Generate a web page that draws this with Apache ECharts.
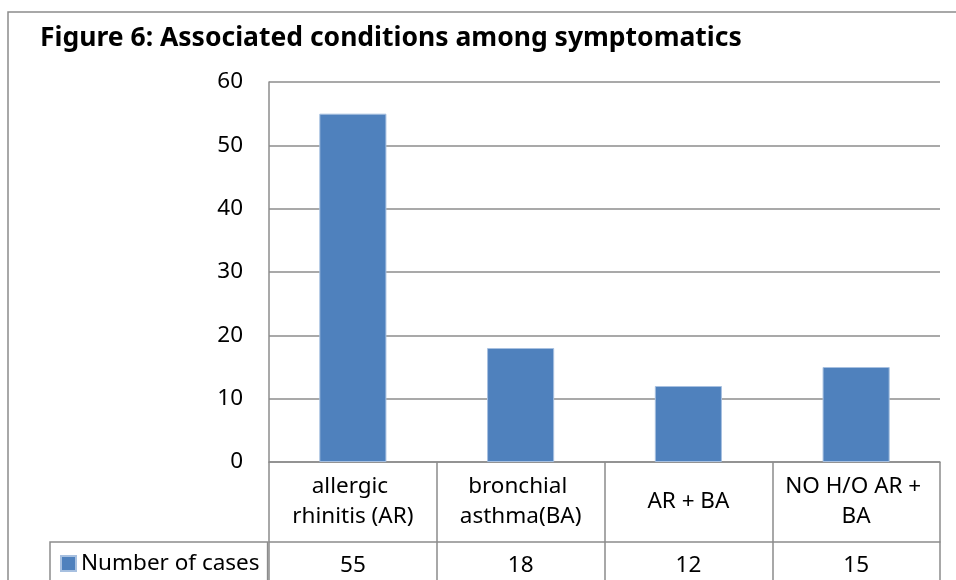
<!DOCTYPE html>
<html>
<head>
<meta charset="utf-8">
<script src="https://cdn.jsdelivr.net/npm/echarts@6/dist/echarts.min.js"></script>
<style>
    html, body { margin: 0; padding: 0; background: #fff; }
    #chart { width: 956px; height: 580px; }
</style>
</head>
<body>
<div id="chart"></div>
<script>
    var categories = ['allergic rhinitis (AR)', 'bronchial asthma(BA)', 'AR + BA', 'NO H/O AR + BA'];
    var cases = [55, 18, 12, 15];
    var yTicks = [0, 10, 20, 30, 40, 50, 60];

    var font = 'Noto Sans';
    var lineColor = '#8c8c8c';

    var myChart = echarts.init(document.getElementById('chart'));

    var option = {
        animation: false,
        textStyle: {fontFamily: font},
        title: {
            text: 'Figure 6: Associated conditions among symptomatics',
            left: 35,
            top: 20,
            textStyle: {fontSize: 26.5, fontWeight: 'bold', color: '#000', fontFamily: font},
        },
        legend: {
            data: ['Number of cases'],
            icon: 'rect',
            left: 50,
            top: 542,
            itemWidth: 15,
            itemHeight: 15,
            itemGap: 5,
            padding: [10, 8, 40, 10],
            borderColor: lineColor,
            borderWidth: 1.5,
            textStyle: {fontSize: 22.5, color: '#000', fontFamily: font},
        },
        grid: {
            left: 269,
            right: 16,
            top: 82,
            bottom: 118,
        },
        xAxis: [
            {
                type: 'category',
                data: categories,
                axisLine: {lineStyle: {color: lineColor, width: 1.5}},
                axisTick: {show: true, length: 118, lineStyle: {color: lineColor, width: 1.5}},
                axisLabel: {
                    margin: 40,
                    verticalAlign: 'middle',
                    fontSize: 22.5,
                    lineHeight: 30,
                    color: '#000',
                    width: 145,
                    overflow: 'break',
                    interval: 0,
                },
            },
            {
                type: 'category',
                position: 'bottom',
                offset: 80,
                data: cases.map(String),
                axisLine: {lineStyle: {color: lineColor, width: 1.5}},
                axisTick: {show: false},
                axisLabel: {margin: 12, fontSize: 22.5, color: '#000', interval: 0},
            },
        ],
        yAxis: {
            type: 'value',
            min: yTicks[0],
            max: yTicks[yTicks.length - 1],
            interval: 10,
            axisLine: {show: true, lineStyle: {color: lineColor, width: 1.5}},
            axisTick: {show: false},
            axisLabel: {margin: 26, fontSize: 22.5, color: '#000'},
            splitLine: {lineStyle: {color: lineColor, width: 1.5}},
        },
        graphic: [
            {
                type: 'rect',
                shape: {x: 8, y: 12, width: 1200, height: 1000},
                style: {fill: null, stroke: lineColor, lineWidth: 1.5},
                silent: true,
                z: -1,
            },
        ],
        series: [
            {
                name: 'Number of cases',
                type: 'bar',
                data: cases,
                barWidth: '40%',
                itemStyle: {
                    color: '#4f81bd',
                    borderColor: '#a7c0e0',
                    borderWidth: 1,
                },
            },
        ],
    };

    myChart.setOption(option);
</script>
</body>
</html>
